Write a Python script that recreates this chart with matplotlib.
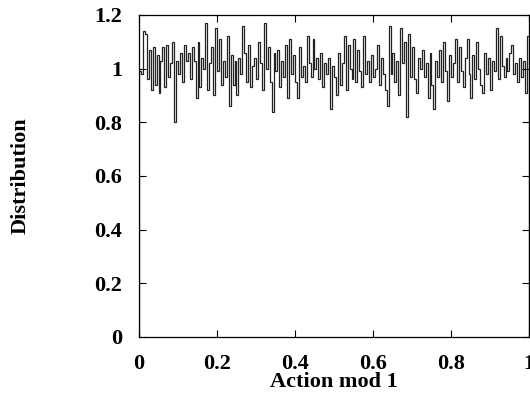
import numpy as np
import matplotlib
matplotlib.use("Agg")
import matplotlib.pyplot as plt

# histogram of action mod 1, 200 bins
dist = [
    0.99, 0.98, 1.14, 1.13, 0.96, 1.07, 0.92, 1.08, 0.94, 1.05,
    0.91, 1.03, 1.08, 0.93, 1.09, 0.97, 1.02, 1.10, 0.80, 1.03,
    0.98, 1.06, 0.95, 1.09, 1.03, 1.06, 0.96, 1.08, 1.03, 0.89,
    1.10, 0.93, 1.04, 1.00, 1.17, 0.92, 1.02, 1.08, 0.90, 1.15,
    0.99, 1.11, 0.94, 1.03, 0.97, 1.12, 0.86, 1.05, 0.94, 1.03,
    0.90, 1.04, 0.98, 1.16, 1.06, 0.95, 1.09, 0.93, 1.01, 1.04,
    0.96, 1.10, 1.02, 0.92, 1.17, 1.00, 1.08, 0.95, 0.84, 1.06,
    0.99, 1.07, 0.93, 1.03, 0.97, 1.09, 0.89, 1.11, 0.98, 1.05,
    0.95, 0.89, 1.08, 0.97, 1.01, 0.95, 1.12, 1.02, 0.97, 1.11,
    1.00, 1.04, 0.96, 1.06, 0.93, 1.02, 0.98, 1.04, 0.85, 1.01,
    0.97, 0.90, 1.06, 0.94, 1.02, 1.12, 0.92, 1.09, 1.00, 0.96,
    1.11, 0.95, 1.07, 0.99, 0.93, 1.12, 0.98, 1.03, 0.95, 1.05,
    0.97, 1.00, 1.09, 0.94, 1.04, 0.98, 0.92, 0.86, 1.16, 0.98,
    1.06, 0.95, 1.03, 0.90, 1.15, 1.02, 1.10, 0.82, 1.13, 0.97,
    1.08, 0.96, 0.91, 1.04, 1.00, 1.07, 0.97, 1.02, 0.89, 1.06,
    0.94, 0.85, 1.03, 0.97, 1.07, 0.95, 1.10, 0.99, 0.88, 1.05,
    0.97, 1.02, 1.11, 0.95, 1.08, 0.99, 0.93, 1.04, 1.11, 0.98,
    0.89, 1.05, 0.96, 1.10, 1.00, 0.94, 0.91, 1.06, 0.98, 1.04,
    0.92, 1.03, 0.99, 1.15, 0.96, 1.12, 1.01, 0.97, 1.04, 0.99,
    1.06, 1.09, 0.98, 1.02, 0.95, 1.04, 0.97, 1.03, 0.91, 1.12,
]
xticks = [0, 0.2, 0.4, 0.6, 0.8, 1]
xticklabels = ["0", "0.2", "0.4", "0.6", "0.8", "1"]
yticks = [0, 0.2, 0.4, 0.6, 0.8, 1, 1.2]
yticklabels = ["0", "0.2", "0.4", "0.6", "0.8", "1", "1.2"]

plt.rcParams["font.family"] = "Liberation Serif"
plt.rcParams["font.weight"] = "bold"

fig = plt.figure(figsize=(5.3, 4.03), dpi=100)
ax = fig.add_axes([0.2623, 0.1638, 0.7357, 0.799])

edges = np.linspace(0, 1, len(dist) + 1)
ax.stairs(dist, edges, color="#222222", linewidth=0.9)

ax.set_xlim(0, 1)
ax.set_ylim(0, 1.2)
ax.set_xticks(xticks)
ax.set_xticklabels(xticklabels, fontsize=16, fontweight="bold")
ax.set_yticks(yticks)
ax.set_yticklabels(yticklabels, fontsize=16, fontweight="bold")
ax.tick_params(direction="in", length=5, width=0.8, top=True, right=True)
ax.tick_params(axis="x", pad=12)
ax.tick_params(axis="y", pad=12)
for s in ax.spines.values():
    s.set_linewidth(0.9)

ax.set_xlabel("Action mod 1", fontsize=16, fontweight="bold", labelpad=-1)
ax.set_ylabel("Distribution", fontsize=16, fontweight="bold", labelpad=46)

fig.savefig("out.png", dpi=100)
